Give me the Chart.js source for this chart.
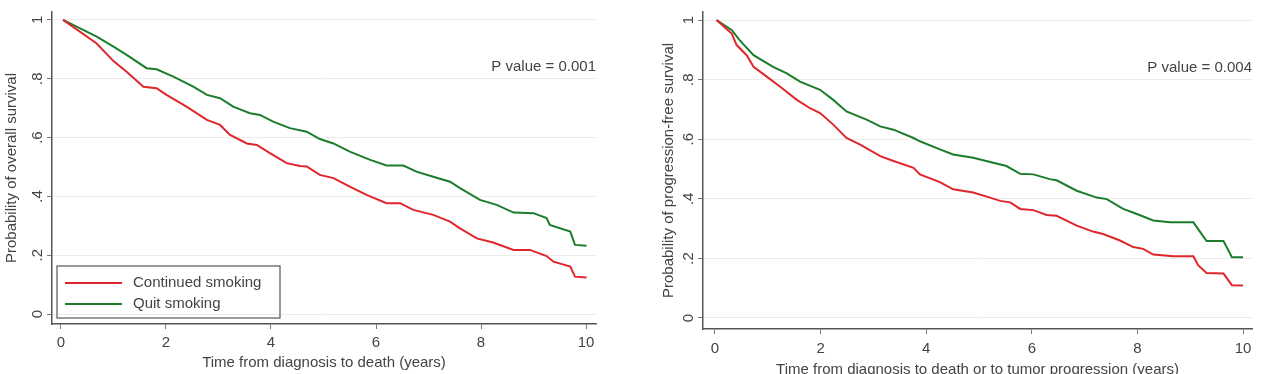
<!DOCTYPE html>
<html>
<head>
<meta charset="utf-8">
<script src="https://cdn.jsdelivr.net/npm/chart.js@4/dist/chart.umd.min.js"></script>
<style>
  html, body { margin: 0; padding: 0; background: #fff; overflow: hidden; }
  #wrap { position: relative; width: 1264px; height: 374px; overflow: hidden; }
  #osBox { position: absolute; left: 0; top: 0; width: 632px; height: 374px; }
  #pfsBox { position: absolute; left: 648px; top: 0; width: 616px; height: 384px; }
</style>
</head>
<body>
<div id="wrap">
  <div id="osBox"><canvas id="osChart"></canvas></div>
  <div id="pfsBox"><canvas id="pfsChart"></canvas></div>
</div>
<script>
var seriesNames = ["Continued smoking", "Quit smoking"];
var xTicks = [0, 2, 4, 6, 8, 10];
var yTicks = [0, 0.2, 0.4, 0.6, 0.8, 1];
var yTickLabels = ["0", ".2", ".4", ".6", ".8", "1"];

// overall survival, continued smoking
var osContTime = [0.04, 0.68, 1.0, 1.25, 1.57, 1.82, 2.01, 2.39, 2.78, 3.03, 3.22, 3.54, 3.73, 3.98, 4.3, 4.55, 4.68, 4.93, 5.19, 5.5, 5.82, 6.2, 6.46, 6.71, 7.09, 7.41, 7.6, 7.92, 8.23, 8.62, 8.93, 9.25, 9.38, 9.7, 9.79, 10.01];
var osContSurv = [1.0, 0.92, 0.86, 0.824, 0.773, 0.768, 0.745, 0.705, 0.66, 0.643, 0.609, 0.58, 0.575, 0.547, 0.513, 0.503, 0.502, 0.473, 0.462, 0.433, 0.405, 0.377, 0.377, 0.354, 0.337, 0.314, 0.291, 0.257, 0.243, 0.218, 0.218, 0.197, 0.178, 0.161, 0.127, 0.124];
// overall survival, quit smoking
var osQuitTime = [0.04, 0.68, 1.0, 1.25, 1.63, 1.82, 2.14, 2.52, 2.78, 3.03, 3.28, 3.6, 3.79, 4.04, 4.36, 4.68, 4.93, 5.19, 5.5, 5.89, 6.2, 6.52, 6.77, 7.09, 7.41, 7.6, 7.98, 8.3, 8.62, 9.0, 9.25, 9.31, 9.7, 9.79, 10.01];
var osQuitSurv = [1.0, 0.943, 0.909, 0.881, 0.836, 0.832, 0.807, 0.773, 0.745, 0.734, 0.705, 0.683, 0.677, 0.654, 0.632, 0.62, 0.595, 0.58, 0.552, 0.524, 0.505, 0.505, 0.484, 0.467, 0.45, 0.428, 0.388, 0.371, 0.345, 0.343, 0.326, 0.303, 0.28, 0.235, 0.232];

// progression-free survival, continued smoking
var pfsContTime = [0.03, 0.32, 0.41, 0.6, 0.73, 0.98, 1.23, 1.55, 1.8, 1.99, 2.24, 2.49, 2.75, 3.13, 3.38, 3.76, 3.88, 4.26, 4.51, 4.89, 5.21, 5.4, 5.59, 5.78, 6.03, 6.28, 6.47, 6.85, 7.16, 7.35, 7.67, 7.92, 8.11, 8.3, 8.68, 9.06, 9.15, 9.31, 9.63, 9.79, 10.0];
var pfsContSurv = [1.0, 0.954, 0.916, 0.882, 0.843, 0.81, 0.777, 0.732, 0.704, 0.688, 0.649, 0.604, 0.582, 0.543, 0.527, 0.504, 0.482, 0.456, 0.432, 0.421, 0.404, 0.393, 0.388, 0.366, 0.362, 0.346, 0.343, 0.31, 0.29, 0.282, 0.26, 0.238, 0.232, 0.213, 0.207, 0.207, 0.177, 0.151, 0.149, 0.11, 0.109];
// progression-free survival, quit smoking
var pfsQuitTime = [0.03, 0.32, 0.47, 0.73, 1.1, 1.36, 1.61, 1.99, 2.24, 2.49, 2.87, 3.13, 3.38, 3.76, 3.88, 4.26, 4.51, 4.89, 5.27, 5.52, 5.78, 6.03, 6.34, 6.47, 6.85, 7.23, 7.42, 7.73, 7.99, 8.3, 8.62, 9.06, 9.19, 9.31, 9.63, 9.79, 10.0];
var pfsQuitSurv = [1.0, 0.966, 0.932, 0.882, 0.843, 0.821, 0.793, 0.766, 0.732, 0.693, 0.666, 0.643, 0.632, 0.604, 0.593, 0.566, 0.549, 0.538, 0.521, 0.51, 0.484, 0.482, 0.466, 0.462, 0.427, 0.404, 0.399, 0.366, 0.349, 0.327, 0.321, 0.321, 0.288, 0.258, 0.258, 0.204, 0.204];

var redColor = '#e0262b';
var greenColor = '#1b7d2c';
var fontFamily = "'Liberation Sans', Arial, sans-serif";
var textSize = 15;

function toPoints(times, values) {
  var pts = [];
  for (var i = 0; i < times.length; i++) {
    pts.push({x: times[i], y: values[i]});
  }
  return pts;
}

// draws the p value note and (optionally) the boxed legend inside the plot
var notesPlugin = {
  id: 'notes',
  afterDraw: function(chart) {
    var o = chart.options.plugins.notes;
    var ctx = chart.ctx;
    var ys = chart.scales.y;
    ctx.save();
    ctx.font = textSize + 'px ' + fontFamily;
    ctx.fillStyle = '#444';
    ctx.textAlign = 'right';
    ctx.textBaseline = 'middle';
    ctx.fillText(o.pText, chart.chartArea.right, ys.getPixelForValue(o.pY));

    if (o.legend) {
      var bx = chart.chartArea.left + 5, by = 266, bw = 223, bh = 52;
      ctx.strokeStyle = '#555';
      ctx.lineWidth = 1.2;
      ctx.strokeRect(bx, by, bw, bh);
      var ds = chart.data.datasets;
      ctx.textAlign = 'left';
      for (var i = 0; i < ds.length; i++) {
        var ly = by + 17 + i * 21;
        ctx.strokeStyle = ds[i].borderColor;
        ctx.lineWidth = 2;
        ctx.beginPath();
        ctx.moveTo(bx + 8, ly);
        ctx.lineTo(bx + 65, ly);
        ctx.stroke();
        ctx.fillStyle = '#444';
        ctx.fillText(ds[i].label, bx + 76, ly);
      }
    }
    ctx.restore();
  }
};

function makeChart(canvasId, cfg) {
  var ctx = document.getElementById(canvasId).getContext('2d');
  return new Chart(ctx, {
    type: 'line',
    data: {
      datasets: [
        { label: seriesNames[0], data: toPoints(cfg.contT, cfg.contS), borderColor: redColor, borderWidth: 2, pointRadius: 0, tension: 0, fill: false },
        { label: seriesNames[1], data: toPoints(cfg.quitT, cfg.quitS), borderColor: greenColor, borderWidth: 2, pointRadius: 0, tension: 0, fill: false }
      ]
    },
    options: {
      responsive: false,
      animation: false,
      maintainAspectRatio: false,
      layout: { padding: { left: 0, right: cfg.padRight, top: cfg.padTop, bottom: 0 } },
      plugins: {
        legend: { display: false },
        tooltip: { enabled: false },
        notes: { pText: cfg.pText, pY: 0.84, legend: cfg.legend }
      },
      scales: {
        x: {
          type: 'linear',
          min: cfg.xMin, max: cfg.xMax,
          afterBuildTicks: function(scale) {
            scale.ticks = xTicks.map(function(v) { return {value: v}; });
          },
          afterFit: function(scale) { scale.height = cfg.xHeight; },
          border: { display: true, color: '#555', width: 1.5 },
          grid: { drawOnChartArea: false, drawTicks: true, tickLength: 5, tickColor: '#777' },
          ticks: { color: '#444', padding: cfg.xTickPad, font: { family: fontFamily, size: textSize }, maxRotation: 0 },
          title: { display: true, text: cfg.xTitle, color: '#444', font: { family: fontFamily, size: textSize }, padding: { top: 0, bottom: cfg.xTitlePad } }
        },
        y: {
          type: 'linear',
          min: cfg.yMin, max: cfg.yMax,
          afterBuildTicks: function(scale) {
            scale.ticks = yTicks.map(function(v) { return {value: v}; });
          },
          afterFit: function(scale) { scale.width = cfg.yWidth; },
          border: { display: true, color: '#555', width: 1.5 },
          grid: { color: '#ececec', lineWidth: 1, drawTicks: true, tickLength: 5, tickColor: '#777' },
          ticks: {
            color: '#444', padding: 3, minRotation: 90, maxRotation: 90, crossAlign: 'center',
            font: { family: fontFamily, size: textSize },
            callback: function(v) {
              var k = yTicks.indexOf(v);
              return k >= 0 ? yTickLabels[k] : '';
            }
          },
          title: { display: true, text: cfg.yTitle, color: '#444', font: { family: fontFamily, size: textSize }, padding: { top: cfg.yTitlePad, bottom: 0 } }
        }
      }
    },
    plugins: [notesPlugin]
  });
}

var osCanvas = document.getElementById('osChart');
osCanvas.width = 632; osCanvas.height = 374;
var pfsCanvas = document.getElementById('pfsChart');
pfsCanvas.width = 616; pfsCanvas.height = 384;

makeChart('osChart', {
  contT: osContTime, contS: osContSurv, quitT: osQuitTime, quitS: osQuitSurv,
  xMin: -0.171, xMax: 10.19, yMin: -0.034, yMax: 1.027,
  padRight: 36, padTop: 12, xHeight: 50, yWidth: 52, xTickPad: 5, xTitlePad: 2, yTitlePad: 3,
  xTitle: 'Time from diagnosis to death (years)',
  yTitle: 'Probability of overall survival',
  pText: 'P value = 0.001', legend: true
});

makeChart('pfsChart', {
  contT: pfsContTime, contS: pfsContSurv, quitT: pfsQuitTime, quitS: pfsQuitSurv,
  xMin: -0.227, xMax: 10.17, yMin: -0.037, yMax: 1.027,
  padRight: 12, padTop: 10, xHeight: 55, yWidth: 55, xTickPad: 6, xTitlePad: 5, yTitlePad: 12,
  xTitle: 'Time from diagnosis to death or to tumor progression (years)',
  yTitle: 'Probability of progression-free survival',
  pText: 'P value = 0.004', legend: false
});
</script>
</body>
</html>
